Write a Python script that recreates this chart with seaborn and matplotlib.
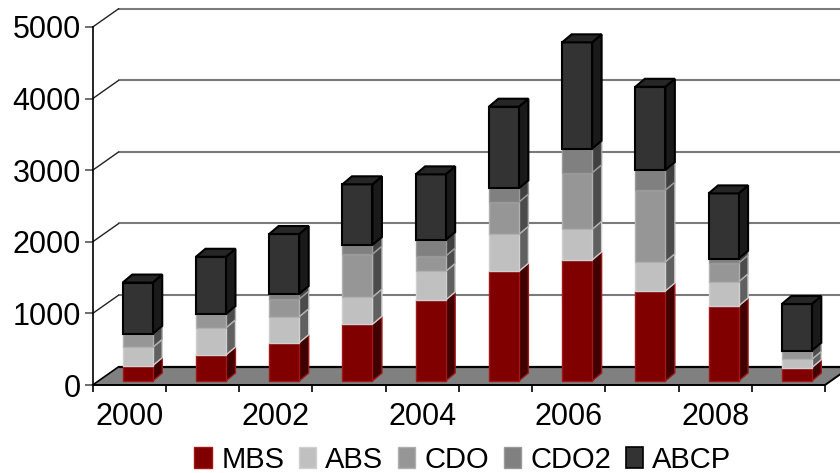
import numpy as np
import pandas as pd
import matplotlib
matplotlib.use("Agg")
import matplotlib.pyplot as plt
from matplotlib.patches import Patch, Polygon
import seaborn as sns

# Outstanding issuance by year and instrument
years = ["2000", "2001", "2002", "2003", "2004", "2005", "2006", "2007", "2008", "2009"]
mbs = [214, 363, 535, 792, 1131, 1532, 1690, 1257, 1047, 186]
abs_ = [257, 381, 363, 381, 400, 517, 429, 409, 339, 117]
cdo = [186, 191, 247, 600, 214, 451, 790, 1001, 261, 120]
cdo2 = [0, 0, 70, 126, 223, 191, 335, 279, 60, 0]
abcp = [718, 800, 838, 848, 918, 1140, 1486, 1163, 913, 652]

series_names = ["MBS", "ABS", "CDO", "CDO2", "ABCP"]
series_values = [mbs, abs_, cdo, cdo2, abcp]
front_colors = ["#800000", "#c0c0c0", "#969696", "#808080", "#333333"]
side_colors = ["#400000", "#606060", "#4b4b4b", "#404040", "#1a1a1a"]
edge_colors = ["#a01818", "#d0d0d0", "#b0b0b0", "#999999", "#000000"]
edge_widths = [1.0, 1.0, 1.0, 1.0, 1.5]

sns.set_theme(style="white")
plt.rcParams["font.family"] = ["Liberation Sans", "DejaVu Sans"]

W, H = 840, 473
fig = plt.figure(figsize=(W / 100, H / 100), dpi=100)

# Plot box in pixels: left/right of the floor's front edge, zero line and 5000 line
LEFT, RIGHT, ZERO, TOP = 92.7, 825.0, 385.0, 27.0
ax = fig.add_axes([LEFT / W, 1 - ZERO / H, (RIGHT - LEFT) / W, (ZERO - TOP) / H])
ax.patch.set_alpha(0)

YMAX = 5000
px_x = 10 / (RIGHT - LEFT)       # category units per pixel
px_y = YMAX / (ZERO - TOP)       # value units per pixel
BAR_SHIFT = 0.115                # bars sit forward of the slot centre
x_lo = -0.5 - BAR_SHIFT
FLOOR_DX, FLOOR_DY = 26 * px_x, 18.3 * px_y
BAR_DX, BAR_DY = 9.5 * px_x, 8 * px_y
LIFT = 4 * px_y                  # bars stand a little behind the front edge
BAR_WIDTH = 30 * px_x

x_hi = x_lo + 10
bottom = np.full(len(years), LIFT, dtype=float)
pos = np.arange(len(years))

for name, vals, fc, sc, ec, lw in zip(series_names, series_values, front_colors,
                                      side_colors, edge_colors, edge_widths):
    vals = np.asarray(vals, dtype=float)
    frame = pd.DataFrame({"year": years, "value": vals})
    sns.barplot(data=frame, x="year", y="value", color=fc, saturation=1,
                width=BAR_WIDTH, bottom=bottom, edgecolor=ec, linewidth=lw,
                zorder=4, ax=ax, legend=False)
    # Right-hand face of each segment, pushed back along the depth axis
    for p, b, v in zip(pos, bottom, vals):
        if v <= 0:
            continue
        xr = p + BAR_WIDTH / 2
        ax.add_patch(Polygon([(xr, b), (xr + BAR_DX, b + BAR_DY),
                              (xr + BAR_DX, b + v + BAR_DY), (xr, b + v)],
                             closed=True, facecolor=sc, edgecolor=ec, linewidth=lw,
                             zorder=3.5, clip_on=False))
    bottom = bottom + vals

# Lid on top of each stack
for p, t in zip(pos, bottom):
    xl, xr = p - BAR_WIDTH / 2, p + BAR_WIDTH / 2
    ax.add_patch(Polygon([(xl, t), (xl + BAR_DX, t + BAR_DY),
                          (xr + BAR_DX, t + BAR_DY), (xr, t)],
                         closed=True, facecolor="#262626", edgecolor="#000000",
                         linewidth=1.5, zorder=4.5, clip_on=False))

ax.set_xlim(x_lo, x_hi)
ax.set_ylim(0, YMAX)

# Floor of the box
ax.add_patch(Polygon([(x_lo, 0), (x_lo + FLOOR_DX, FLOOR_DY),
                      (x_hi + FLOOR_DX, FLOOR_DY), (x_hi, 0)],
                     closed=True, facecolor="#808080", edgecolor="none",
                     zorder=1, clip_on=False))
ax.plot([x_lo + FLOOR_DX, x_hi + FLOOR_DX], [FLOOR_DY, FLOOR_DY], color="black",
        lw=1.6, zorder=1.2, clip_on=False)
ax.plot([x_lo, x_hi, x_hi + FLOOR_DX], [0, 0, FLOOR_DY], color="black", lw=1.4,
        zorder=1.2, clip_on=False)
ax.plot([x_lo, x_lo + FLOOR_DX], [0, FLOOR_DY], color="black", lw=1.2, zorder=1.2,
        clip_on=False)

# Back-wall gridlines and their diagonals on the left wall
y_ticks = np.arange(1000, YMAX + 1, 1000)
for y in y_ticks:
    ax.plot([x_lo + FLOOR_DX, x_hi + FLOOR_DX], [y + FLOOR_DY] * 2, color="#7a7a7a",
            lw=1.5, zorder=1.1, clip_on=False)
    ax.plot([x_lo, x_lo + FLOOR_DX], [y, y + FLOOR_DY], color="#222222", lw=1.0,
            zorder=1.1, clip_on=False)

sns.despine(ax=ax, top=True, right=True, bottom=True)
ax.spines["left"].set_color("black")
ax.spines["left"].set_linewidth(1.2)

ax.set_yticks(np.arange(0, YMAX + 1, 1000))
ax.tick_params(axis="y", left=True, length=5.5, width=1.2, color="#555555", pad=3,
               labelsize=22, labelcolor="black")
ax.set_xticks(x_lo + np.arange(11))
ax.set_xticklabels([])
ax.set_xticks(x_lo + 0.5 + np.arange(0, 10, 2), labels=years[::2], minor=True)
ax.tick_params(axis="x", which="major", bottom=True, length=5, width=1.2,
               color="black")
ax.tick_params(axis="x", which="minor", bottom=False, length=0, pad=12.5, labelsize=22,
               labelcolor="black")
ax.set_xlabel("")
ax.set_ylabel("")

handles = [Patch(facecolor=fc, edgecolor=ec, linewidth=1.0 if n != "ABCP" else 1.2)
           for n, fc, ec in zip(series_names, front_colors, edge_colors)]
fig.legend(handles, series_names, ncol=5, loc="center", frameon=False,
           bbox_to_anchor=(463 / W, 1 - 459.5 / H), fontsize=21, handlelength=0.6,
           handleheight=0.7, handletextpad=0.32, columnspacing=0.49,
           labelcolor="black", borderpad=0)

fig.savefig("out.png", dpi=100, facecolor="white")
